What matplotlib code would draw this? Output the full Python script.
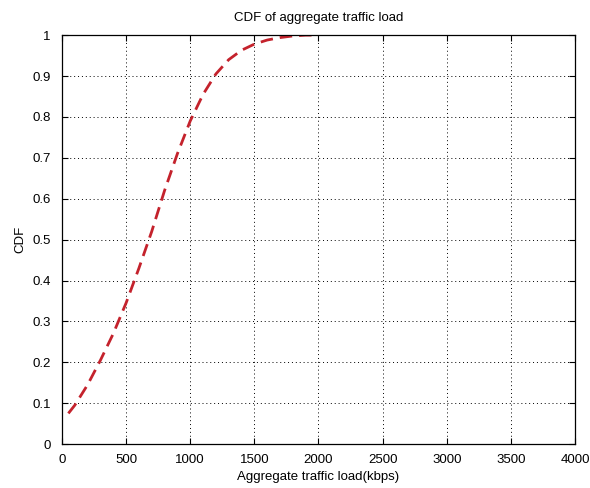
import matplotlib
matplotlib.use("Agg")
import matplotlib.pyplot as plt

plt.rcParams['font.family'] = ['Liberation Sans', 'DejaVu Sans']

# Aggregate traffic load (kbps) and empirical CDF values
load_kbps = [50, 100, 200, 300, 400, 500, 600, 700, 800, 900, 1000,
             1100, 1200, 1300, 1400, 1500, 1600, 1700, 1800, 1900, 1950]
cdf_vals = [0.075, 0.095, 0.145, 0.205, 0.27, 0.345, 0.43, 0.52, 0.62, 0.71, 0.79,
            0.855, 0.905, 0.94, 0.963, 0.978, 0.988, 0.994, 0.998, 1.0, 1.0]

x_ticks = [0, 500, 1000, 1500, 2000, 2500, 3000, 3500, 4000]
y_ticks = [0, 0.1, 0.2, 0.3, 0.4, 0.5, 0.6, 0.7, 0.8, 0.9, 1]
y_tick_labels = ['0', '0.1', '0.2', '0.3', '0.4', '0.5', '0.6', '0.7', '0.8', '0.9', '1']

fig = plt.figure(figsize=(5.9, 4.88), dpi=100)
ax = fig.add_axes([0.105, 0.090, 0.8696, 0.838])

ax.plot(load_kbps, cdf_vals, linestyle=(0, (4.5, 2.5)), color='#c4222c', linewidth=2.0)

ax.set_xlim(0, 4000)
ax.set_ylim(0, 1)
ax.set_xticks(x_ticks)
ax.set_xticklabels([str(t) for t in x_ticks])
ax.set_yticks(y_ticks)
ax.set_yticklabels(y_tick_labels)
ax.tick_params(direction='in', length=4, width=0.8, labelsize=9.5,
               top=True, right=True)
ax.tick_params(axis='x', pad=7)
ax.tick_params(axis='y', pad=8)

ax.grid(True, color='black', linestyle=(0, (1, 3)), linewidth=0.7)
for s in ax.spines.values():
    s.set_linewidth(0.9)

ax.set_xlabel('Aggregate traffic load(kbps)', fontsize=9.5, labelpad=4)
ax.set_ylabel('CDF', fontsize=9.5, labelpad=4)
ax.set_title('CDF of aggregate traffic load', fontsize=9.5, pad=10)

fig.savefig('out.png', dpi=100, facecolor='white')
